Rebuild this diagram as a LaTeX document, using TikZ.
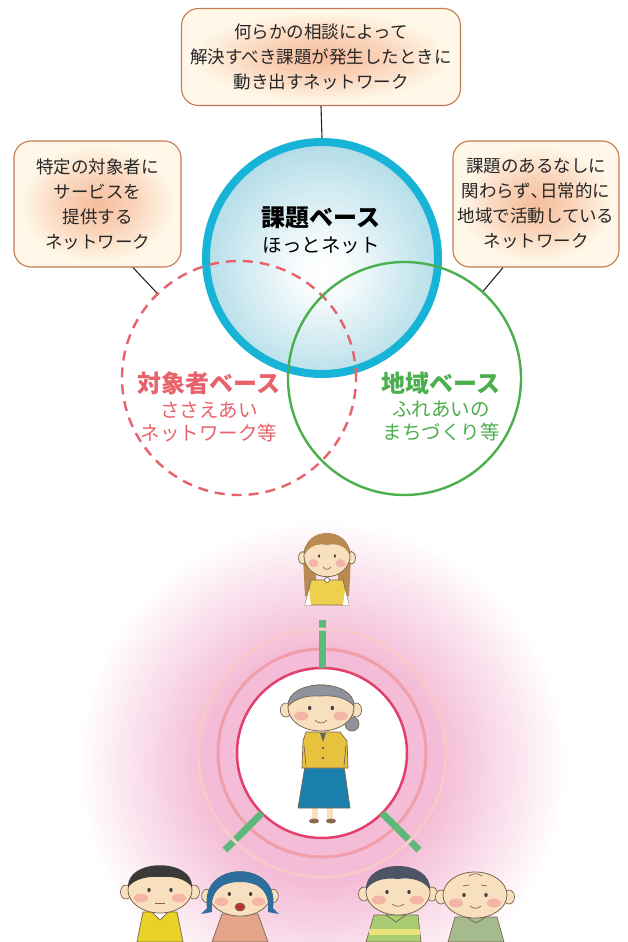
\documentclass[tikz,border=0pt]{standalone}
\usepackage{fontspec}
\setmainfont{Noto Sans CJK JP}
\usetikzlibrary{calc}

% palette
\definecolor{boxline}{HTML}{C47A52}
\definecolor{boxcream}{HTML}{FFF7E7}
\definecolor{boxglowc}{HTML}{F6BC9C}
\definecolor{kadaiblue}{HTML}{18B4D7}
\definecolor{kadaifill}{HTML}{B6DEE9}
\definecolor{taishored}{HTML}{E8626B}
\definecolor{chiikigreen}{HTML}{4BAF4D}
\definecolor{halopink}{HTML}{F4BCD6}
\definecolor{ringinner}{HTML}{E33F6B}
\definecolor{ringmid}{HTML}{F09EA9}
\definecolor{ringouter}{HTML}{F8C9CB}
\definecolor{linkgreen}{HTML}{5CB97A}
\definecolor{skin}{HTML}{F8E0BE}
\definecolor{inkline}{HTML}{7A6652}
\definecolor{blushc}{HTML}{F3A6A0}
\definecolor{girlhair}{HTML}{B98A52}
\definecolor{grayhair}{HTML}{8E949E}
\definecolor{blackhair}{HTML}{3C3A38}
\definecolor{bluehair}{HTML}{2D6E9C}
\definecolor{darkhair}{HTML}{4C5466}
\definecolor{shirtyellow}{HTML}{E9D126}
\definecolor{dressyellow}{HTML}{EDD14E}
\definecolor{cardigan}{HTML}{E6C23E}
\definecolor{skirtblue}{HTML}{1A7FAA}
\definecolor{salmon}{HTML}{E3A48A}
\definecolor{leafgreen}{HTML}{A9CD73}
\definecolor{stripe}{HTML}{EAE27A}
\definecolor{sage}{HTML}{A5BB8D}
\definecolor{shoe}{HTML}{8A6A50}

% shadings
\pgfdeclareradialshading{boxglow}{\pgfpoint{0bp}{0bp}}{color(0bp)=(boxglowc); color(11bp)=(boxglowc!60!boxcream); color(23bp)=(boxcream); color(50bp)=(boxcream)}
\pgfdeclareradialshading{kadaiglow}{\pgfpoint{0bp}{-3bp}}{color(0bp)=(white); color(5bp)=(white!92!kadaifill); color(25bp)=(kadaifill); color(50bp)=(kadaifill)}
\pgfdeclareradialshading{pinkhalo}{\pgfpoint{0bp}{0bp}}{color(0bp)=(halopink); color(12bp)=(halopink); color(25bp)=(white); color(50bp)=(white)}

\tikzset{
  memo/.style={draw=boxline, line width=1.1pt, rounded corners=17pt, shade, shading=boxglow,
    inner sep=0pt, align=center, font=\fontsize{17.5}{25}\selectfont, text=black!85},
  lead/.style={line width=1.1pt, draw=black!85},
  basetitle/.style={font=\fontsize{24}{28}\selectfont\bfseries, inner sep=0pt},
  basesub/.style={font=\fontsize{19.5}{23}\selectfont, align=center, inner sep=0pt},
  link/.style={draw=linkgreen, line width=7pt},
  ink/.style={draw=inkline, line width=0.7pt},
  face/.pic={
    \draw[ink, fill=skin] (-34,2) ellipse[x radius=5.5, y radius=7];
    \draw[ink, fill=skin] (34,2) ellipse[x radius=5.5, y radius=7];
    \draw[ink, line width=0.8pt, fill=skin] (0,0) ellipse[x radius=32, y radius=23];
    \fill[blushc, opacity=0.75] (-19,8) ellipse[x radius=7, y radius=4.5];
    \fill[blushc, opacity=0.75] (19,8) ellipse[x radius=7, y radius=4.5];
    \fill[black!75] (-11,0) ellipse[x radius=1.7, y radius=2.1];
    \fill[black!75] (11,0) ellipse[x radius=1.7, y radius=2.1];
  }
}

\begin{document}
\begin{tikzpicture}[x=1pt, y=-1pt]
\useasboundingbox (0,0) rectangle (627,942);
\fill[white] (0,0) rectangle (627,942);

% ---------- three kinds of networks ----------
\node[circle, draw=kadaiblue, line width=8pt, shade, shading=kadaiglow,
      minimum size=232pt, inner sep=0pt] (kadai) at (322,258) {};
\node[circle, draw=taishored, line width=2.4pt, dash pattern=on 10pt off 7pt,
      minimum size=234pt, inner sep=0pt] (taisho) at (239,378) {};
\node[circle, draw=chiikigreen, line width=2.4pt,
      minimum size=233pt, inner sep=0pt] (chiiki) at (404.5,378.5) {};

\node[basetitle, text=black] (kadaititle) at (321,218) {課題ベース};
\node[basesub, text=black] (kadaisub) at (321,245) {ほっとネット};

\node[basetitle, text=taishored] (taishotitle) at (209,383) {対象者ベース};
\node[basesub, text=taishored] (taishosub) at (209,421.5) {ささえあい\\ネットワーク等};

\node[basetitle, text=chiikigreen] (chiikititle) at (441,383) {地域ベース};
\node[basesub, text=chiikigreen] (chiikisub) at (441,421.5) {ふれあいの\\まちづくり等};

% ---------- explanatory memos ----------
\node[memo, minimum width=279pt, minimum height=97pt] (topmemo) at (321,57)
  {何らかの相談によって\\解決すべき課題が発生したときに\\動き出すネットワーク};
\node[memo, minimum width=167pt, minimum height=126pt] (leftmemo) at (97.5,204)
  {特定の対象者に\\サービスを\\提供する\\ネットワーク};
\node[memo, minimum width=166pt, minimum height=126pt] (rightmemo) at (536,204)
  {課題のあるなしに\\関わらず､日常的に\\地域で活動している\\ネットワーク};

\draw[lead] (topmemo.south) -- (kadai.north);
\draw[lead] ($(leftmemo.south)+(35.5,0)$) -- (taisho.134);
\draw[lead] ($(rightmemo.south)+(-33,0)$) -- (chiiki.48);

% ---------- support around one person ----------
\coordinate (hub) at (322,753);
\shade[shading=pinkhalo] (322,765) circle (245);
\draw[ringmid, line width=3pt] (hub) circle (104);
\node[circle, draw=ringinner, fill=white, line width=2.5pt, minimum size=170pt,
      inner sep=0pt, outer sep=0pt] (elderring) at (hub) {};
\coordinate (linktop) at (322,620);
\coordinate (linkleft) at (225,850);
\coordinate (linkright) at (419,850);
\draw[link] (elderring.90) -- (linktop);
\draw[link] (elderring.225) -- (linkleft);
\draw[link] (elderring.315) -- (linkright);
\draw[ringouter, line width=3pt] (hub) circle (124);

% girl at the top
\fill[girlhair] (303,558) .. controls (302,526) and (352,526) .. (351,558) -- (349,596) -- (338,596)
  -- (338,572) -- (316,572) -- (316,596) -- (305,596) -- cycle;
\filldraw[ink, fill=dressyellow] (311,580) -- (343,580) -- (349,605) -- (305,605) -- cycle;
\fill[white] (305,605) -- (309,590) -- (311,605) -- cycle;
\fill[white] (349,605) -- (345,590) -- (343,605) -- cycle;
\pic[xscale=0.72, yscale=0.9] at (327,556) {face};
\fill[girlhair] (305,554) .. controls (303,526) and (351,526) .. (349,554)
  .. controls (345,545) and (335,543) .. (327,545) .. controls (318,543) and (309,546) .. cycle;
\draw[ink] (323,567) .. controls (325,570) and (329,570) .. (331,567);
\filldraw[ink, fill=white] (327,580) circle (2.5);

% elderly woman in the centre
\fill[skin] (312,806) rectangle (318,820);
\fill[skin] (327,806) rectangle (333,820);
\fill[shoe] (314,821) ellipse[x radius=5, y radius=2.5];
\fill[shoe] (331,821) ellipse[x radius=5, y radius=2.5];
\filldraw[ink, fill=skirtblue] (305,766) -- (344,766) -- (350,808) -- (298,808) -- cycle;
\filldraw[ink, fill=cardigan] (306,732) -- (340,732) -- (347,741) -- (348,768) -- (302,768) -- (303,741) -- cycle;
\draw[ink] (304,745) -- (306,766);
\draw[ink] (346,745) -- (344,766);
\fill[black!60] (320,733) -- (326,733) -- (323,742) -- cycle;
\fill[inkline] (323,748) circle (1.4);
\fill[inkline] (323,758) circle (1.4);
\filldraw[ink, fill=grayhair] (352,724) circle (7);
\pic[xscale=1.03] at (321,708) {face};
\filldraw[ink, fill=grayhair] (288,706) .. controls (287,678) and (355,678) .. (354,706)
  .. controls (346,697) and (332,695) .. (320,696) .. controls (306,695) and (295,699) .. cycle;
\draw[ink] (315,720) .. controls (318,724) and (324,724) .. (327,720);

% man with black hair
\filldraw[ink, fill=shirtyellow] (143,912) -- (177,912) -- (183,942) -- (137,942) -- cycle;
\draw[ink, fill=white] (152,912) -- (160,920) -- (168,912) -- cycle;
\pic at (160,890) {face};
\fill[blackhair] (128,887) .. controls (127,858) and (193,858) .. (192,887)
  .. controls (185,878) and (172,876) .. (160,877) .. controls (147,876) and (135,879) .. cycle;
\draw[ink] (155,903) -- (165,903);

% woman with blue hair
\filldraw[ink, fill=salmon] (222,914) -- (258,914) -- (268,942) -- (212,942) -- cycle;
\pic[xscale=0.97, yscale=0.96] at (240,894) {face};
\fill[bluehair] (207,908) .. controls (199,859) and (281,859) .. (273,908) -- (279,914) -- (268,912)
  .. controls (270,892) and (260,882) .. (240,882) .. controls (220,882) and (210,892) .. (212,912)
  -- (201,914) -- cycle;
\filldraw[ink, fill=red!65!black!80] (240,907) ellipse[x radius=5, y radius=4];

% man with dark grey hair
\filldraw[ink, fill=leafgreen] (374,915) -- (418,915) -- (421,942) -- (366,942) -- cycle;
\fill[stripe] (368.5,929) rectangle (419.5,935);
\draw[ink, fill=leafgreen] (386,915) -- (396,922) -- (406,915) -- cycle;
\pic at (398,892) {face};
\fill[darkhair] (366,890) .. controls (364,858) and (432,858) .. (430,890)
  .. controls (424,880) and (410,877) .. (398,879) .. controls (384,877) and (371,881) .. cycle;
\draw[ink] (392,904) .. controls (395,907) and (401,907) .. (404,904);

% bald man
\filldraw[ink, fill=sage] (455,917) -- (497,917) -- (504,942) -- (448,942) -- cycle;
\draw[ink] (466,917) -- (476,923) -- (486,917);
\pic at (475,895) {face};
\draw[ink] (469,876) .. controls (473,873) and (478,873) .. (482,876);
\draw[ink] (463,886) -- (469,885);
\draw[ink] (481,885) -- (487,886);
\draw[ink] (470,906) .. controls (473,909) and (478,909) .. (481,906);
\end{tikzpicture}
\end{document}
